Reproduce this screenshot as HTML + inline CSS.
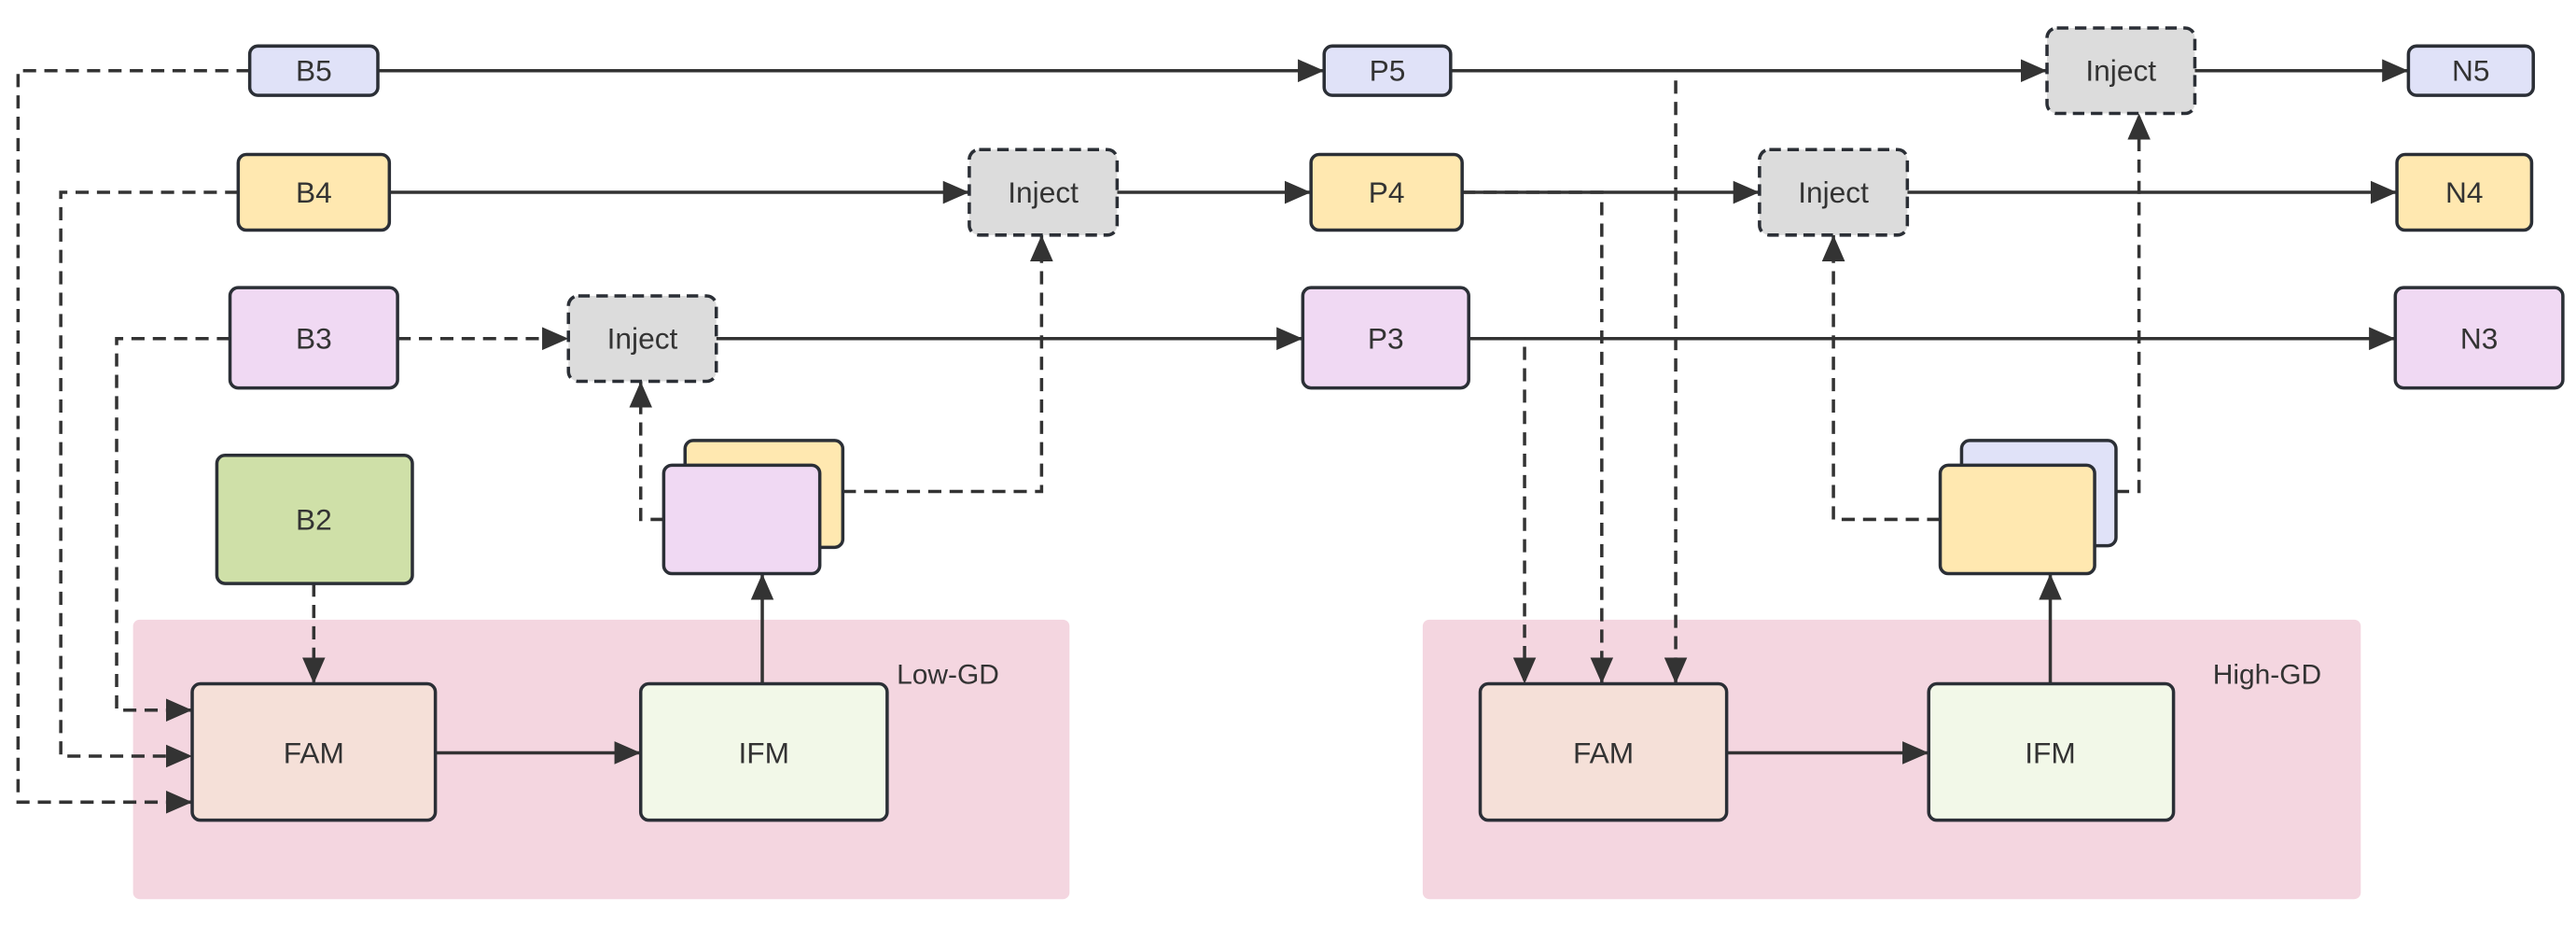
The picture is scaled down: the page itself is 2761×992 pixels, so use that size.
<!DOCTYPE html>
<html><head><meta charset="utf-8"><style>html,body{margin:0;padding:0;background:#fff}svg{display:block}</style></head>
<body>
<svg width="2761" height="992" viewBox="0 0 1568 563.35" xmlns="http://www.w3.org/2000/svg" font-family="Liberation Sans, DejaVu Sans, sans-serif" font-size="18" fill="#333">
<defs>
<marker id="a" viewBox="0 0 10 10" refX="10" refY="5" markerWidth="8" markerHeight="8" markerUnits="userSpaceOnUse" orient="auto"><path d="M0,0 L10,5 L0,10 z" fill="#333"/></marker>
<marker id="b" viewBox="0 0 10 10" refX="10" refY="5" markerWidth="16" markerHeight="14" markerUnits="userSpaceOnUse" orient="auto" preserveAspectRatio="none"><path d="M0,0 L10,5 L0,10 z" fill="#333"/></marker>
</defs>
<!-- groups -->
<rect x="81" y="377" width="570" height="170" rx="4" fill="#f4d6e0"/>
<rect x="866" y="377" width="571" height="170" rx="4" fill="#f4d6e0"/>
<text x="577" y="416" text-anchor="middle" font-size="17">Low-GD</text>
<text x="1380" y="416" text-anchor="middle" font-size="17">High-GD</text>

<g stroke="#333" stroke-width="2" fill="none">
<!-- solid lines -->
<line x1="230" y1="43" x2="806" y2="43" marker-end="url(#b)"/>
<line x1="883" y1="43" x2="1246" y2="43" marker-end="url(#b)"/>
<line x1="1336" y1="43" x2="1466" y2="43" marker-end="url(#b)"/>
<line x1="237" y1="117" x2="590" y2="117" marker-end="url(#b)"/>
<line x1="680" y1="117" x2="798" y2="117" marker-end="url(#b)"/>
<line x1="890" y1="117" x2="1071" y2="117" marker-end="url(#b)"/>
<line x1="1161" y1="117" x2="1459" y2="117" marker-end="url(#b)"/>
<line x1="436" y1="206" x2="793" y2="206" marker-end="url(#b)"/>
<line x1="894" y1="206" x2="1458" y2="206" marker-end="url(#b)"/>
<line x1="265" y1="458" x2="390" y2="458" marker-end="url(#b)"/>
<line x1="1051" y1="458" x2="1174" y2="458" marker-end="url(#b)"/>
<line x1="464" y1="416" x2="464" y2="349" marker-end="url(#b)"/>
<line x1="1248" y1="416" x2="1248" y2="349" marker-end="url(#b)"/>
<!-- dashed -->
<g stroke-dasharray="8,5">
<polyline points="152,43 11,43 11,488 117,488" marker-end="url(#b)"/>
<polyline points="145,117 37,117 37,460 117,460" marker-end="url(#b)"/>
<polyline points="140,206 71,206 71,432 117,432" marker-end="url(#b)"/>
<line x1="191" y1="355" x2="191" y2="416" marker-end="url(#b)"/>
<line x1="242" y1="206" x2="346" y2="206" marker-end="url(#b)"/>
<polyline points="404,316 390,316 390,232" marker-end="url(#b)"/>
<polyline points="513,299 634,299 634,143" marker-end="url(#b)"/>
<polyline points="883,43 1020,43 1020,416" marker-end="url(#b)"/>
<polyline points="890,117 975,117 975,416" marker-end="url(#b)"/>
<polyline points="894,206 928,206 928,416" marker-end="url(#b)"/>
<polyline points="1181,316 1116,316 1116,143" marker-end="url(#b)"/>
<polyline points="1288,299 1302,299 1302,69" marker-end="url(#b)"/>
</g>
</g>

<g stroke="#2b2f36" stroke-width="2">
<rect x="152" y="28" width="78" height="30" rx="5" fill="#e0e2f8"/>
<rect x="806" y="28" width="77" height="30" rx="5" fill="#e0e2f8"/>
<rect x="1466" y="28" width="76" height="30" rx="5" fill="#e0e2f8"/>
<rect x="145" y="94" width="92" height="46" rx="5" fill="#ffe8b0"/>
<rect x="798" y="94" width="92" height="46" rx="5" fill="#ffe8b0"/>
<rect x="1459" y="94" width="82" height="46" rx="5" fill="#ffe8b0"/>
<rect x="140" y="175" width="102" height="61" rx="5" fill="#f0d9f3"/>
<rect x="793" y="175" width="101" height="61" rx="5" fill="#f0d9f3"/>
<rect x="1458" y="175" width="102" height="61" rx="5" fill="#f0d9f3"/>
<rect x="132" y="277" width="119" height="78" rx="5" fill="#cfe0a8"/>
<rect x="117" y="416" width="148" height="83" rx="5" fill="#f5e0d8"/>
<rect x="390" y="416" width="150" height="83" rx="5" fill="#f2f8e8"/>
<rect x="901" y="416" width="150" height="83" rx="5" fill="#f5e0d8"/>
<rect x="1174" y="416" width="149" height="83" rx="5" fill="#f2f8e8"/>
<rect x="417" y="268" width="96" height="65" rx="5" fill="#ffe8b0"/>
<rect x="404" y="283" width="95" height="66" rx="5" fill="#f0d9f3"/>
<rect x="1194" y="268" width="94" height="64" rx="5" fill="#e0e2f8"/>
<rect x="1181" y="283" width="94" height="66" rx="5" fill="#ffe8b0"/>
<g fill="#dcdcdc" stroke-dasharray="7,4">
<rect x="1246" y="17" width="90" height="52" rx="6"/>
<rect x="590" y="91" width="90" height="52" rx="6"/>
<rect x="1071" y="91" width="90" height="52" rx="6"/>
<rect x="346" y="180" width="90" height="52" rx="6"/>
</g>
</g>

<g text-anchor="middle" dominant-baseline="central">
<text x="191" y="43">B5</text><text x="844.5" y="43">P5</text><text x="1504" y="43">N5</text>
<text x="191" y="117">B4</text><text x="844" y="117">P4</text><text x="1500" y="117">N4</text>
<text x="191" y="206">B3</text><text x="843.5" y="206">P3</text><text x="1509" y="206">N3</text>
<text x="191" y="316">B2</text>
<text x="1291" y="43">Inject</text><text x="635" y="117">Inject</text><text x="1116" y="117">Inject</text><text x="391" y="206">Inject</text>
<text x="191" y="458">FAM</text><text x="465" y="458">IFM</text>
<text x="976" y="458">FAM</text><text x="1248" y="458">IFM</text>
</g>
</svg>
</body></html>
